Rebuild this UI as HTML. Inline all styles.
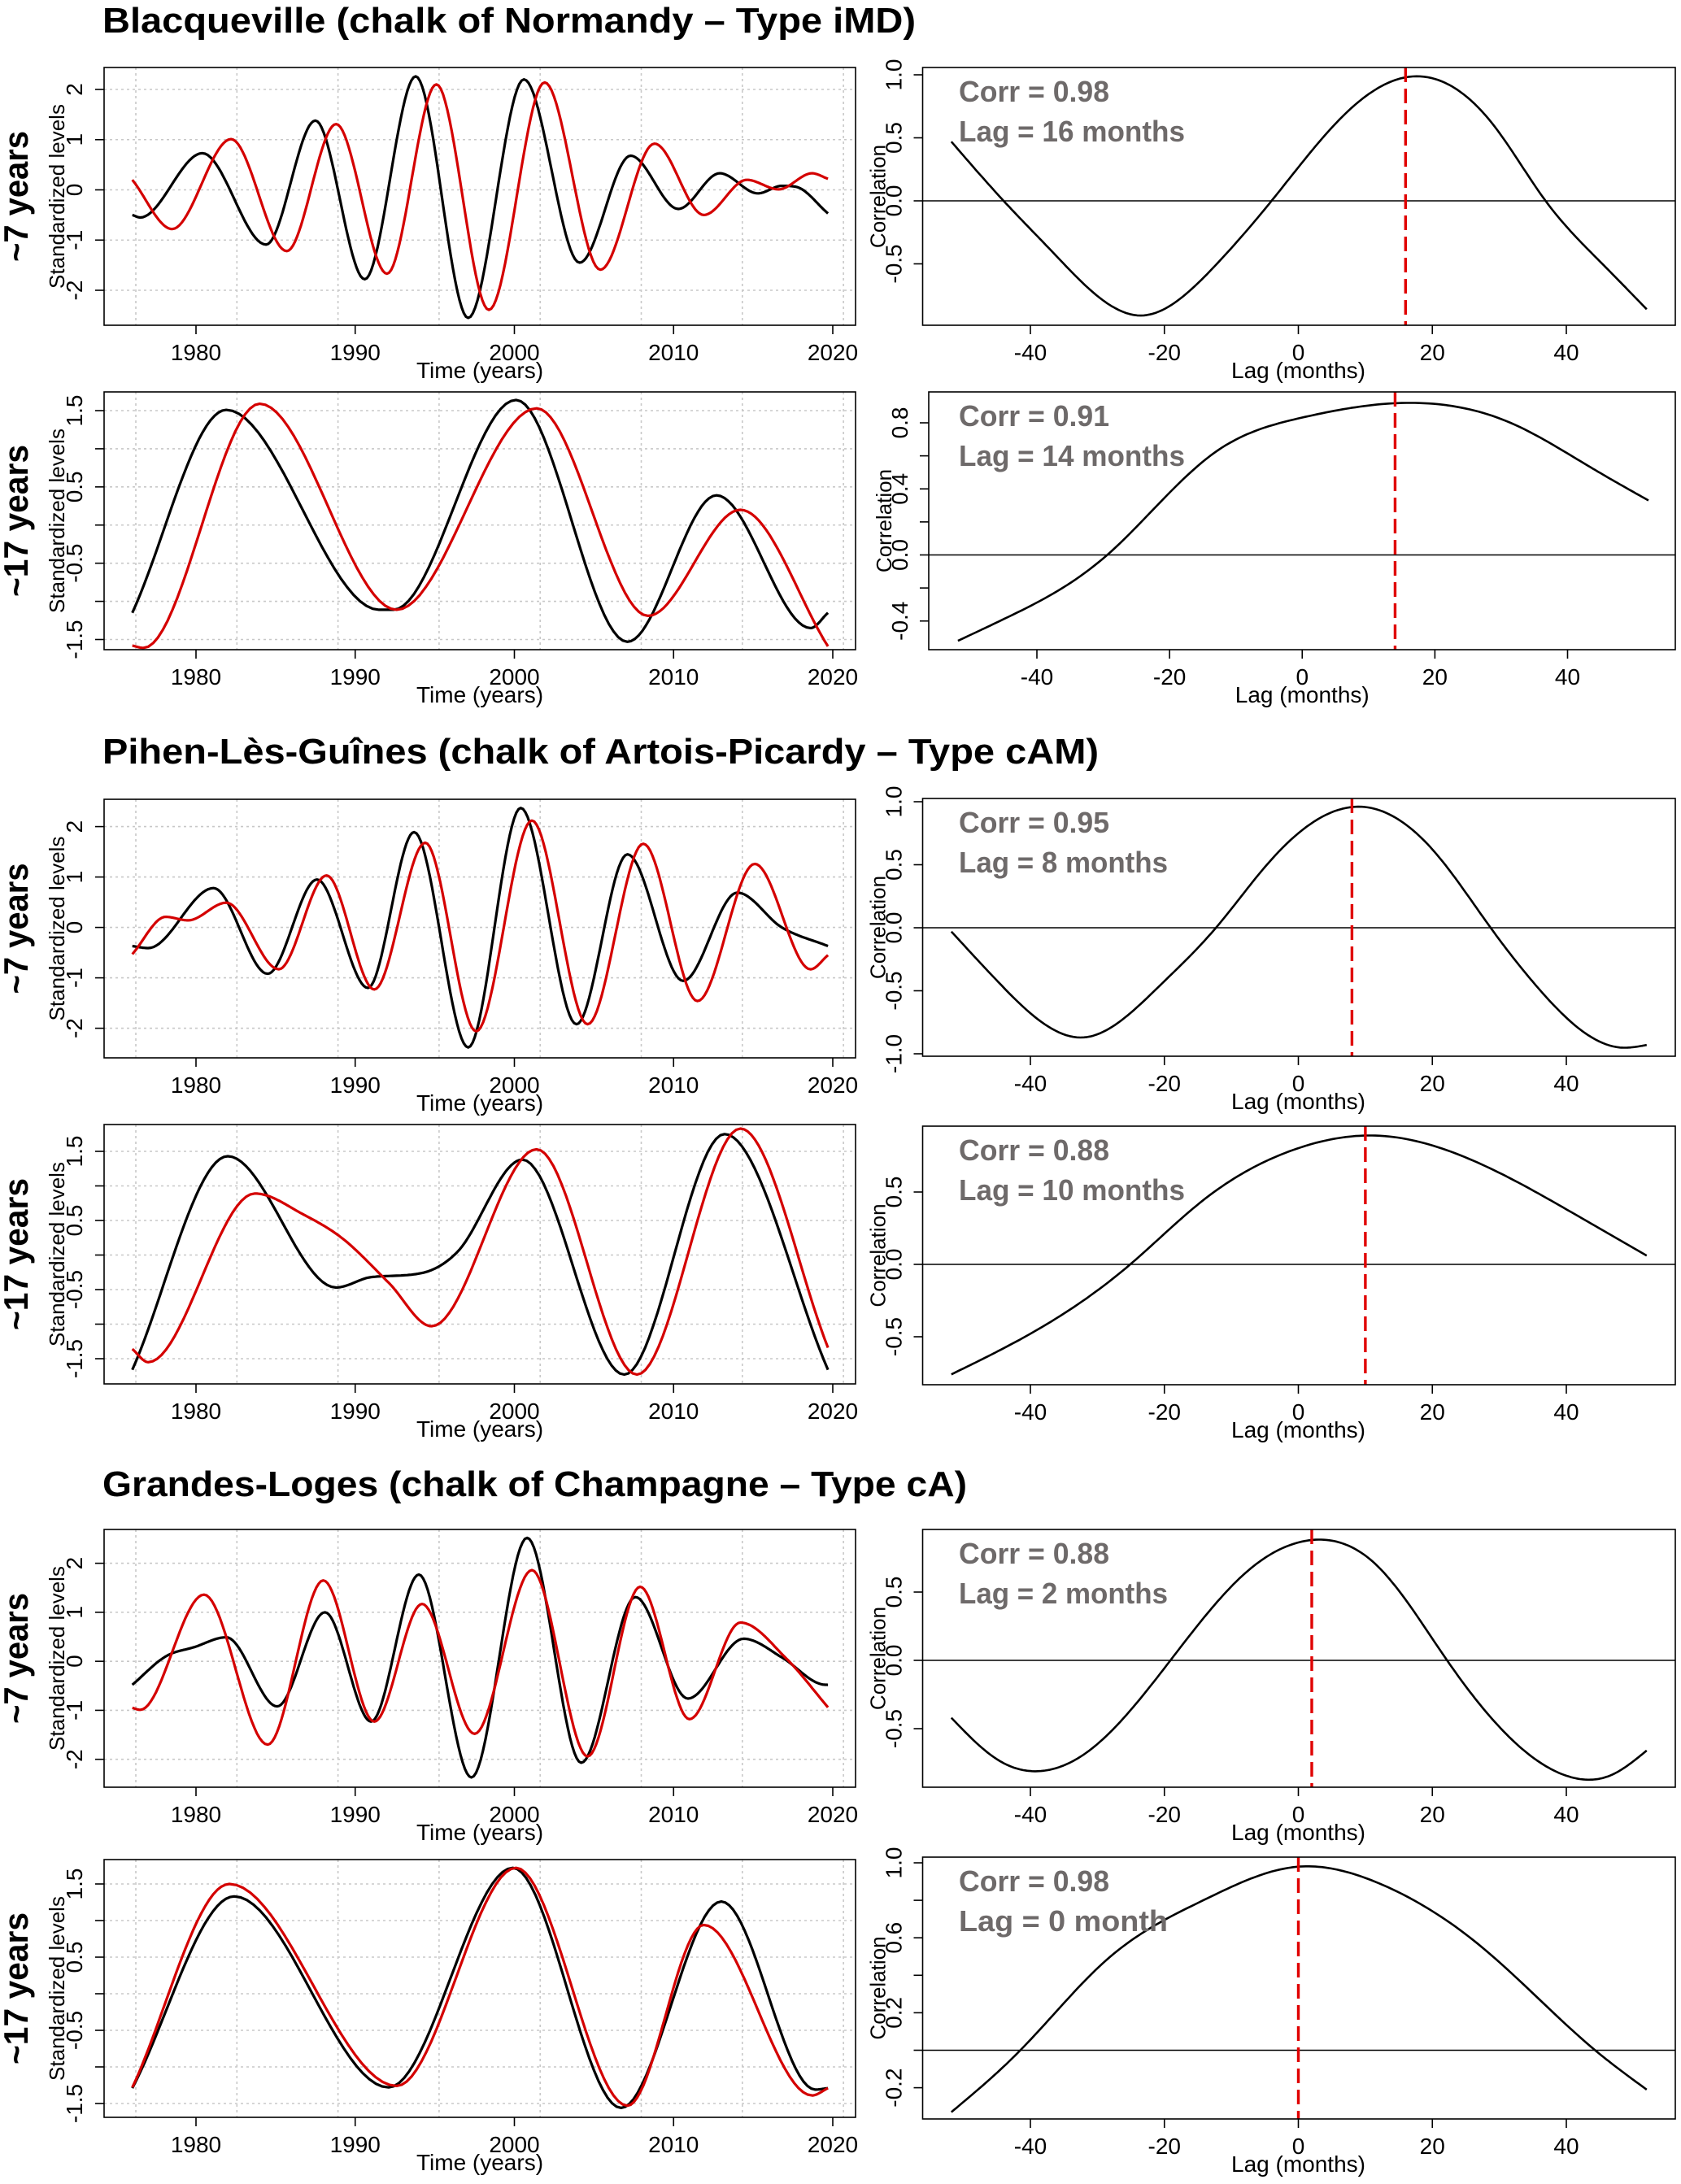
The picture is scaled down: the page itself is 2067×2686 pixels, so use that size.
<!DOCTYPE html>
<html><head><meta charset="utf-8">
<style>
html,body{margin:0;padding:0;background:#fff;}
svg{display:block;}
text{font-family:"Liberation Sans",sans-serif;}
.title{font-weight:bold;font-size:44px;fill:#000;}
.rowlab{font-weight:bold;font-size:42px;fill:#000;}
.tick{font-size:28px;fill:#000;}
.axt{font-size:26px;fill:#000;}
.ann{font-weight:bold;font-size:36px;fill:#6e6a6a;}
</style></head>
<body>
<svg id="fig" width="2067" height="2686" viewBox="0 0 2067 2686" xmlns="http://www.w3.org/2000/svg">
<text class="title" x="126" y="40" textLength="1000" lengthAdjust="spacingAndGlyphs">Blacqueville (chalk of Normandy – Type iMD)</text>
<text class="title" x="126" y="939" textLength="1225" lengthAdjust="spacingAndGlyphs">Pihen-Lès-Guînes (chalk of Artois-Picardy – Type cAM)</text>
<text class="title" x="126" y="1840" textLength="1063" lengthAdjust="spacingAndGlyphs">Grandes-Loges (chalk of Champagne – Type cA)</text>
</svg>
<script>
// ---------- data: time series (years, standardized levels) ----------
const s1aBlackYears=[1976,1976.5,1980.4,1984.4,1987.5,1990.6,1993.8,1997.1,2000.6,2004.1,2007.3,2010.3,2012.9,2015.3,2016.8,2017.7,2019.7];
const s1aBlackVals =[-0.5,-0.55,0.73,-1.09,1.38,-1.78,2.26,-2.55,2.2,-1.45,0.68,-0.38,0.33,-0.07,0.08,0.06,-0.47];
const s1aRedYears=[1976,1978.5,1982.2,1985.7,1988.8,1992.0,1995.1,1998.4,2001.9,2005.4,2008.8,2011.9,2014.6,2016.6,2018.7,2019.7];
const s1aRedVals =[0.2,-0.78,1.01,-1.22,1.31,-1.67,2.1,-2.39,2.14,-1.59,0.92,-0.5,0.2,0.01,0.33,0.22];
const s1bBlackYears=[1976,1981.9,1991.5,1992.4,2000.1,2007.1,2012.7,2018.6,2019.7];
const s1bBlackVals =[-1.15,1.51,-1.11,-1.11,1.64,-1.53,0.39,-1.35,-1.15];
const s1bRedYears=[1976,1976.7,1984.0,1992.6,2001.4,2008.4,2014.2,2019.7];
const s1bRedVals =[-1.58,-1.61,1.59,-1.11,1.53,-1.19,0.2,-1.59];

const s2aBlackYears=[1976,1977,1981.1,1984.5,1987.6,1990.8,1993.7,1997.1,2000.4,2003.9,2007.1,2010.6,2014.0,2016.8,2019.7];
const s2aBlackVals =[-0.37,-0.41,0.78,-0.92,0.95,-1.2,1.89,-2.38,2.37,-1.92,1.45,-1.06,0.69,0.0,-0.37];
const s2aRedYears=[1976,1978.1,1979.5,1981.9,1985.2,1988.2,1991.2,1994.4,1997.6,2001.1,2004.6,2008.1,2011.5,2015.1,2018.6,2019.7];
const s2aRedVals =[-0.53,0.21,0.14,0.49,-0.83,1.03,-1.23,1.68,-2.06,2.12,-1.92,1.66,-1.46,1.26,-0.83,-0.55];
const s2bBlackYears=[1976,1982.0,1988.8,1991.0,1994.2,1996.4,2000.5,2006.9,2013.2,2019.7];
const s2bBlackVals =[-1.66,1.43,-0.47,-0.32,-0.26,0.04,1.38,-1.73,1.75,-1.66];
const s2bRedYears=[1976,1977,1983.7,1986.8,1989.2,1992.1,1994.8,2001.4,2007.7,2014.2,2019.7];
const s2bRedVals =[-1.36,-1.55,0.89,0.58,0.24,-0.4,-1.03,1.53,-1.73,1.83,-1.34];

const s3aBlackYears=[1976,1978.1,1979.9,1981.9,1985.1,1988.1,1991.0,1994.0,1997.3,2000.8,2004.2,2007.6,2010.9,2014.4,2016.8,2019.3,2019.7];
const s3aBlackVals =[-0.48,0.1,0.29,0.49,-0.92,1.0,-1.23,1.77,-2.37,2.52,-2.07,1.31,-0.76,0.46,0.08,-0.47,-0.48];
const s3aRedYears=[1976,1976.5,1980.5,1984.5,1988.0,1991.2,1994.2,1997.5,2001.1,2004.6,2007.9,2011.0,2014.2,2017.1,2019.7];
const s3aRedVals =[-0.95,-0.99,1.36,-1.7,1.65,-1.23,1.17,-1.48,1.86,-1.94,1.52,-1.18,0.79,0.05,-0.94];
const s3bBlackYears=[1976,1982.4,1992.1,1999.9,2006.7,2013.0,2018.9,2019.7];
const s3bBlackVals =[-1.29,1.33,-1.28,1.72,-1.56,1.26,-1.31,-1.29];
const s3bRedYears=[1976,1982.1,1992.6,2000.1,2007.1,2011.9,2018.7,2019.7];
const s3bRedVals =[-1.28,1.5,-1.26,1.72,-1.53,0.94,-1.39,-1.29];

// ---------- data: cross-correlation (lag months, correlation) ----------
const r1aLags=[-51.8,-44,-36.8,-23.5,-12.7,-4,6.6,16,29,36.9,45,52];
const r1aCorr=[0.47,0,-0.4,-0.91,-0.53,0,0.67,0.98,0.61,0,-0.48,-0.86];
const r1bLags=[-51.9,-45.6,-29.4,-13.2,-0.2,15,31.4,43.5,52.2];
const r1bCorr=[-0.52,-0.4,0,0.62,0.83,0.92,0.8,0.53,0.33];
const r2aLags=[-51.8,-44.8,-32,-20.7,-12.3,-4.7,9.5,20.2,28.7,35.5,48,52];
const r2aCorr=[-0.03,-0.43,-0.87,-0.46,0,0.5,0.96,0.61,0,-0.46,-0.95,-0.93];
const r2bLags=[-51.8,-40.8,-25.1,-14.3,-0.2,11.5,27.4,41.9,52];
const r2bCorr=[-0.76,-0.5,0,0.44,0.8,0.89,0.69,0.33,0.06];
const r3aLags=[-51.8,-44.8,-38.4,-31.2,-19.1,-7.9,1.8,11.4,22.2,32.3,41.1,46.7,52];
const r3aCorr=[-0.42,-0.73,-0.81,-0.66,0,0.64,0.88,0.71,0,-0.6,-0.86,-0.84,-0.66];
const r3bLags=[-51.8,-41.5,-28.7,-14.2,0.2,11.4,27.4,44.3,52];
const r3bCorr=[-0.33,0,0.48,0.8,0.98,0.9,0.55,0,-0.21];

const corrLabels=["Corr = 0.98","Corr = 0.91","Corr = 0.95","Corr = 0.88","Corr = 0.88","Corr = 0.98"];
const lagLabels=["Lag = 16 months","Lag = 14 months","Lag = 8 months","Lag = 10 months","Lag = 2 months","Lag = 0 month"];
const bestLags=[16,14,8,10,2,0];
const yearTicks=[1980,1990,2000,2010,2020];
const lagTicks=[-40,-20,0,20,40];
const gridYears=[1976.22,1982.57,1988.92,1995.27,2001.62,2007.97,2014.32,2020.67];
const rowLabels=["~7 years","~17 years","~7 years","~17 years","~7 years","~17 years"];

const NS="http://www.w3.org/2000/svg";
const svg=document.getElementById('fig');
function mk(tag,attrs,parent){const e=document.createElementNS(NS,tag);for(const k in attrs)e.setAttribute(k,attrs[k]);(parent||svg).appendChild(e);return e;}
function lin(v0,p0,v1,p1){return v=>p0+(v-v0)*(p1-p0)/(v1-v0);}
// monotone cubic (Fritsch-Carlson) smooth path through read points
function smoothPath(xs,ys,sx,sy){
  const n=xs.length,d=[],m=new Array(n);
  for(let i=0;i<n-1;i++)d.push((ys[i+1]-ys[i])/(xs[i+1]-xs[i]));
  m[0]=d[0];m[n-1]=d[n-2];
  for(let i=1;i<n-1;i++){m[i]=(d[i-1]*d[i]<=0)?0:(d[i-1]+d[i])/2;}
  for(let i=0;i<n-1;i++){if(d[i]===0){m[i]=0;m[i+1]=0;continue;}const a=m[i]/d[i],b=m[i+1]/d[i],s=a*a+b*b;if(s>9){const t=3/Math.sqrt(s);m[i]=t*a*d[i];m[i+1]=t*b*d[i];}}
  return hermite(xs,ys,m,sx,sy);}
// natural cubic spline path
function splinePath(xs,ys,sx,sy){
  const n=xs.length,h=[],a=new Array(n).fill(0),b=new Array(n).fill(0),c=new Array(n).fill(0),r=new Array(n).fill(0);
  for(let i=0;i<n-1;i++)h.push(xs[i+1]-xs[i]);
  b[0]=1;b[n-1]=1;
  for(let i=1;i<n-1;i++){a[i]=h[i-1];b[i]=2*(h[i-1]+h[i]);c[i]=h[i];r[i]=3*((ys[i+1]-ys[i])/h[i]-(ys[i]-ys[i-1])/h[i-1]);}
  for(let i=1;i<n;i++){const w=a[i]/b[i-1];b[i]-=w*c[i-1];r[i]-=w*r[i-1];}
  const M=new Array(n);M[n-1]=r[n-1]/b[n-1];
  for(let i=n-2;i>=0;i--)M[i]=(r[i]-c[i]*M[i+1])/b[i];
  let p="M"+sx(xs[0]).toFixed(1)+","+sy(ys[0]).toFixed(1);
  for(let i=0;i<n-1;i++){const bb=(ys[i+1]-ys[i])/h[i]-h[i]*(2*M[i]+M[i+1])/3,dd=(M[i+1]-M[i])/(3*h[i]);
    for(let k=1;k<=24;k++){const t=h[i]*k/24;const v=ys[i]+bb*t+M[i]*t*t+dd*t*t*t;
      p+="L"+sx(xs[i]+t).toFixed(1)+","+sy(v).toFixed(1);}}
  return p;}
function hermite(xs,ys,m,sx,sy){
  const n=xs.length;
  let p="M"+sx(xs[0]).toFixed(1)+","+sy(ys[0]).toFixed(1);
  for(let i=0;i<n-1;i++){const h=xs[i+1]-xs[i];
    for(let k=1;k<=24;k++){const t=k/24,t2=t*t,t3=t2*t;
      const v=(2*t3-3*t2+1)*ys[i]+(t3-2*t2+t)*h*m[i]+(-2*t3+3*t2)*ys[i+1]+(t3-t2)*h*m[i+1];
      p+="L"+sx(xs[i]+t*h).toFixed(1)+","+sy(v).toFixed(1);}}
  return p;}
function fmt(v,dec){return v.toFixed(dec);}

// left panels
const leftPanels=[
 {y0:83,y1:400,ya:2,pa:110,yb:-2,pb:357,ticks:[-2,-1,0,1,2],lab:[-2,-1,0,1,2],dec:0,grid:[-2,-1,0,1,2],b:[s1aBlackYears,s1aBlackVals],r:[s1aRedYears,s1aRedVals]},
 {y0:482,y1:799,ya:1.5,pa:505,yb:-1.5,pb:786.5,ticks:[-1.5,-1,-0.5,0,0.5,1,1.5],lab:[-1.5,-0.5,0.5,1.5],dec:1,grid:[-1.5,-1,-0.5,0,0.5,1,1.5],b:[s1bBlackYears,s1bBlackVals],r:[s1bRedYears,s1bRedVals]},
 {y0:983,y1:1301,ya:2,pa:1016.6,yb:-2,pb:1264.6,ticks:[-2,-1,0,1,2],lab:[-2,-1,0,1,2],dec:0,grid:[-2,-1,0,1,2],b:[s2aBlackYears,s2aBlackVals],r:[s2aRedYears,s2aRedVals]},
 {y0:1383,y1:1702,ya:1.5,pa:1416,yb:-1.5,pb:1671,ticks:[-1.5,-1,-0.5,0,0.5,1,1.5],lab:[-1.5,-0.5,0.5,1.5],dec:1,grid:[-1.5,-1,-0.5,0,0.5,1,1.5],b:[s2bBlackYears,s2bBlackVals],r:[s2bRedYears,s2bRedVals]},
 {y0:1881,y1:2198,ya:2,pa:1922.6,yb:-2,pb:2163.7,ticks:[-2,-1,0,1,2],lab:[-2,-1,0,1,2],dec:0,grid:[-2,-1,0,1,2],b:[s3aBlackYears,s3aBlackVals],r:[s3aRedYears,s3aRedVals]},
 {y0:2287,y1:2604,ya:1.5,pa:2317,yb:-1.5,pb:2587,ticks:[-1.5,-1,-0.5,0,0.5,1,1.5],lab:[-1.5,-0.5,0.5,1.5],dec:1,grid:[-1.5,-1,-0.5,0,0.5,1,1.5],b:[s3bBlackYears,s3bBlackVals],r:[s3bRedYears,s3bRedVals]}
];
const LX0=128,LX1=1052;
leftPanels.forEach((P,i)=>{
  const g=mk('g',{});
  
  
  const sx=lin(1980,241,2020,1024), sy=lin(P.ya,P.pa,P.yb,P.pb);
  gridYears.forEach(yr=>{const l=mk('line',{x1:sx(yr),x2:sx(yr),y1:P.y0,y2:P.y1,stroke:'#c8c8c8','stroke-width':1.6,'stroke-dasharray':'3 4'},g);
    
    });
  P.grid.forEach(v=>{const l=mk('line',{x1:LX0,x2:LX1,y1:sy(v),y2:sy(v),stroke:'#c8c8c8','stroke-width':1.6,'stroke-dasharray':'3 4'},g);
    
    });
  const b=mk('path',{d:smoothPath(P.b[0],P.b[1],sx,sy),fill:'none',stroke:'#000','stroke-width':3.2,'stroke-linejoin':'round'},g);
  
  
  const r=mk('path',{d:smoothPath(P.r[0],P.r[1],sx,sy),fill:'none',stroke:'#d40000','stroke-width':3.2,'stroke-linejoin':'round'},g);
  
  
  const f=mk('rect',{x:LX0,y:P.y0,width:LX1-LX0,height:P.y1-P.y0,fill:'none',stroke:'#000','stroke-width':1.6},g);
  
  
  yearTicks.forEach(yr=>{mk('line',{x1:sx(yr),x2:sx(yr),y1:P.y1,y2:P.y1+11,stroke:'#000','stroke-width':1.6},g);
    const t=mk('text',{x:sx(yr),y:P.y1+43,'text-anchor':'middle',class:'tick'},g);t.textContent=yr;
    
    });
  P.ticks.forEach(v=>{mk('line',{x1:LX0,x2:LX0-11,y1:sy(v),y2:sy(v),stroke:'#000','stroke-width':1.6},g);});
  P.lab.forEach(v=>{const t=mk('text',{x:0,y:0,'text-anchor':'middle',class:'tick',transform:`translate(${LX0-27},${sy(v)}) rotate(-90)`},g);t.textContent=fmt(v,P.dec);
    
    });
  const xt=mk('text',{x:(LX0+LX1)/2,y:P.y1+65,'text-anchor':'middle',class:'tick'},g);xt.textContent='Time (years)';
  
  
  const yt=mk('text',{x:0,y:0,'text-anchor':'middle',class:'axt',transform:`translate(${LX0-49},${(P.y0+P.y1)/2}) rotate(-90)`},g);yt.textContent='Standardized levels';
  
  
  const rl=mk('text',{x:0,y:0,'text-anchor':'middle',class:'rowlab',textLength:(i%2?187:161),lengthAdjust:'spacingAndGlyphs',transform:`translate(${34},${(P.y0+P.y1)/2}) rotate(-90)`},g);rl.textContent=rowLabels[i];
  
  
});

// right panels
const rightPanels=[
 {x0:1134.5,y0:83,y1:400,la:-40,pla:1267,lb:40,plb:1926,va:1,pa:92,vb:0,pb:247,ticks:[-0.5,0,0.5,1],lab:[-0.5,0,0.5,1],L:[r1aLags,r1aCorr]},
 {x0:1142,y0:482,y1:799,la:-40,pla:1275,lb:40,plb:1927.5,va:0.8,pa:520,vb:0,pb:682.5,ticks:[-0.4,-0.2,0,0.2,0.4,0.6,0.8],lab:[-0.4,0,0.4,0.8],L:[r1bLags,r1bCorr]},
 {x0:1134.5,y0:982,y1:1299,la:-40,pla:1267,lb:40,plb:1926,va:1,pa:986,vb:0,pb:1141,ticks:[-1,-0.5,0,0.5,1],lab:[-1,-0.5,0,0.5,1],L:[r2aLags,r2aCorr]},
 {x0:1134.5,y0:1385,y1:1703,la:-40,pla:1267,lb:40,plb:1926,va:0.5,pa:1466,vb:0,pb:1555,ticks:[-0.5,0,0.5],lab:[-0.5,0,0.5],L:[r2bLags,r2bCorr]},
 {x0:1134.5,y0:1881,y1:2198,la:-40,pla:1267,lb:40,plb:1926,va:0.5,pa:1958,vb:0,pb:2042,ticks:[-0.5,0,0.5],lab:[-0.5,0,0.5],L:[r3aLags,r3aCorr]},
 {x0:1134.5,y0:2284,y1:2606,la:-40,pla:1267,lb:40,plb:1926,va:1,pa:2291,vb:0,pb:2521.5,ticks:[-0.2,0,0.2,0.4,0.6,0.8,1],lab:[-0.2,0.2,0.6,1],L:[r3bLags,r3bCorr]}
];
const RX1=2060;
rightPanels.forEach((P,i)=>{
  const g=mk('g',{});
  
  
  const sx=lin(P.la,P.pla,P.lb,P.plb), sy=lin(P.va,P.pa,P.vb,P.pb);
  const z=mk('line',{x1:P.x0,x2:RX1,y1:sy(0),y2:sy(0),stroke:'#000','stroke-width':1.6},g);
  
  
  const c=mk('path',{d:splinePath(P.L[0],P.L[1],sx,sy),fill:'none',stroke:'#000','stroke-width':2.6,'stroke-linejoin':'round'},g);
  
  
  const dl=mk('line',{x1:sx(bestLags[i]),x2:sx(bestLags[i]),y1:P.y0,y2:P.y1,stroke:'#e00000','stroke-width':3.4,'stroke-dasharray':'18 8'},g);
  
  
  const f=mk('rect',{x:P.x0,y:P.y0,width:RX1-P.x0,height:P.y1-P.y0,fill:'none',stroke:'#000','stroke-width':1.6},g);
  
  
  lagTicks.forEach(v=>{mk('line',{x1:sx(v),x2:sx(v),y1:P.y1,y2:P.y1+11,stroke:'#000','stroke-width':1.6},g);
    const t=mk('text',{x:sx(v),y:P.y1+43,'text-anchor':'middle',class:'tick'},g);t.textContent=v;
    
    });
  P.ticks.forEach(v=>{mk('line',{x1:P.x0,x2:P.x0-11,y1:sy(v),y2:sy(v),stroke:'#000','stroke-width':1.6},g);});
  P.lab.forEach(v=>{const t=mk('text',{x:0,y:0,'text-anchor':'middle',class:'tick',transform:`translate(${P.x0-26},${sy(v)}) rotate(-90)`},g);t.textContent=fmt(v,1);
    
    });
  const xt=mk('text',{x:sx(0),y:P.y1+65,'text-anchor':'middle',class:'tick'},g);xt.textContent='Lag (months)';
  
  
  const yt=mk('text',{x:0,y:0,'text-anchor':'middle',class:'axt',transform:`translate(${P.x0-46},${(P.y0+P.y1)/2}) rotate(-90)`},g);yt.textContent='Correlation';
  
  
  const a1=mk('text',{x:1179,y:P.y0+42,class:'ann',textLength:185,lengthAdjust:'spacingAndGlyphs'},g);a1.textContent=corrLabels[i];
  
  
  const lw=(lagLabels[i].indexOf('16')>0||lagLabels[i].indexOf('14')>0||lagLabels[i].indexOf('10')>0)?278:257;
  const a2=mk('text',{x:1179,y:P.y0+91,class:'ann',textLength:lw,lengthAdjust:'spacingAndGlyphs'},g);a2.textContent=lagLabels[i];
  
  
});
</script>
</body></html>
